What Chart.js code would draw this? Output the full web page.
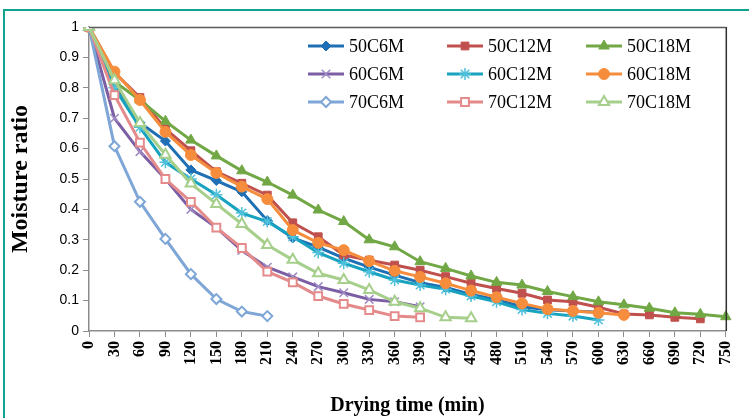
<!DOCTYPE html>
<html>
<head>
<meta charset="utf-8">
<script src="https://cdn.jsdelivr.net/npm/chart.js@4.4.1/dist/chart.umd.min.js"></script>
<style>
  html, body { margin: 0; padding: 0; background: #fff; overflow: hidden; }
  #wrap { position: relative; width: 749px; height: 418px; overflow: hidden; background: #fff; }
  #frame { position: absolute; left: 3px; top: 9px; width: 900px; height: 600px; border: 2px solid #12a38e; box-sizing: border-box; pointer-events: none; }
  canvas { position: absolute; left: 0; top: 0; }
</style>
</head>
<body>
<div id="wrap">
  <canvas id="c" width="749" height="418"></canvas>
  <div id="frame"></div>
</div>
<script>
const categories = ['0','30','60','90','120','150','180','210','240','270','300','330','360','390','420','450','480','510','540','570','600','630','660','690','720','750'];
const yTicks = [0, 0.1, 0.2, 0.3, 0.4, 0.5, 0.6, 0.7, 0.8, 0.9, 1];
const seriesNames = ['50C6M','50C12M','50C18M','60C6M','60C12M','60C18M','70C6M','70C12M','70C18M'];

const s50C6M  = [1, 0.81, 0.685, 0.625, 0.53, 0.495, 0.458, 0.363, 0.306, 0.276, 0.24, 0.21, 0.184, 0.159, 0.143, 0.12, 0.103, 0.08, 0.07, 0.066, 0.062];
const s50C12M = [1, 0.85, 0.768, 0.665, 0.593, 0.524, 0.486, 0.447, 0.356, 0.31, 0.25, 0.233, 0.217, 0.2, 0.179, 0.157, 0.14, 0.124, 0.102, 0.096, 0.078, 0.056, 0.053, 0.045, 0.04];
const s50C18M = [1, 0.82, 0.76, 0.69, 0.628, 0.576, 0.527, 0.49, 0.447, 0.398, 0.36, 0.30, 0.277, 0.228, 0.206, 0.181, 0.16, 0.151, 0.13, 0.113, 0.096, 0.086, 0.075, 0.06, 0.055, 0.047];
const s60C6M  = [1, 0.70, 0.59, 0.50, 0.40, 0.34, 0.265, 0.21, 0.178, 0.146, 0.126, 0.104, 0.096, 0.08];
const s60C12M = [1, 0.80, 0.67, 0.555, 0.50, 0.448, 0.388, 0.36, 0.31, 0.258, 0.223, 0.195, 0.168, 0.151, 0.137, 0.115, 0.096, 0.071, 0.058, 0.049, 0.036];
const s60C18M = [1, 0.853, 0.76, 0.655, 0.579, 0.52, 0.475, 0.434, 0.332, 0.29, 0.266, 0.23, 0.198, 0.178, 0.157, 0.133, 0.111, 0.091, 0.072, 0.066, 0.06, 0.053];
const s70C6M  = [1, 0.608, 0.425, 0.303, 0.187, 0.105, 0.064, 0.049];
const s70C12M = [1, 0.776, 0.62, 0.50, 0.425, 0.34, 0.273, 0.195, 0.16, 0.115, 0.089, 0.069, 0.049, 0.045];
const s70C18M = [1, 0.825, 0.684, 0.58, 0.485, 0.418, 0.352, 0.283, 0.234, 0.19, 0.168, 0.135, 0.096, 0.075, 0.045, 0.042];

const seriesValues = [s50C6M, s50C12M, s50C18M, s60C6M, s60C12M, s60C18M, s70C6M, s70C12M, s70C18M];

const styles = [
  {color:'#1f6fb4', point:'rectRot',  radius:5,   fill:'#1f6fb4', pbw:1},
  {color:'#c0504d', point:'rect',     radius:5.5, fill:'#c0504d', pbw:1},
  {color:'#71a845', point:'triangle', radius:6,   fill:'#71a845', pbw:1},
  {color:'#7b5ea3', point:'crossRot', radius:6,   fill:'#7b5ea3', pbw:1.5, pcolor:'#a08cc4'},
  {color:'#17a2bf', point:'star',     radius:6,   fill:'#17a2bf', pbw:1.5, pcolor:'#4fc0dc'},
  {color:'#f68d3c', point:'circle',   radius:5.5, fill:'#f68d3c', pbw:1},
  {color:'#7ea6d6', point:'rectRot',  radius:5,   fill:'#ffffff', pbw:2},
  {color:'#e58a8a', point:'rect',     radius:5.5, fill:'#ffffff', pbw:2},
  {color:'#a5cf8b', point:'triangle', radius:6,   fill:'#ffffff', pbw:2}
];

function pad(arr) {
  const out = arr.slice();
  while (out.length < categories.length) out.push(null);
  return out;
}

const datasets = seriesNames.map((name, i) => ({
  label: name,
  data: pad(seriesValues[i]),
  borderColor: styles[i].color,
  backgroundColor: styles[i].fill,
  borderWidth: 3,
  pointStyle: styles[i].point,
  pointRadius: styles[i].radius,
  pointHoverRadius: styles[i].radius,
  pointBackgroundColor: styles[i].fill,
  pointBorderColor: styles[i].pcolor || styles[i].color,
  pointBorderWidth: styles[i].pbw,
  tension: 0,
  fill: false,
  order: 9 - i
}));

const legendCols = [308, 447, 586];
const legendRows = [46, 74, 102];

const boxAndLegend = {
  id: 'boxAndLegend',
  afterDatasetsDraw(chart) {
    const ctx = chart.ctx;
    const a = chart.chartArea;
    ctx.save();
    ctx.lineWidth = 1.5;
    ctx.strokeStyle = '#5a5a5a';
    ctx.beginPath();
    ctx.moveTo(a.left, a.top + 0.5);
    ctx.lineTo(a.right, a.top + 0.5);
    ctx.stroke();
    ctx.strokeStyle = '#2e2e2e';
    ctx.beginPath();
    ctx.moveTo(a.right + 0.5, a.top);
    ctx.lineTo(a.right + 0.5, a.bottom);
    ctx.stroke();

    ctx.font = '18px "Liberation Serif", "Times New Roman", serif';
    ctx.textBaseline = 'middle';
    ctx.textAlign = 'left';
    chart.data.datasets.forEach((ds, i) => {
      const x0 = legendCols[i % 3];
      const y = legendRows[Math.floor(i / 3)];
      ctx.strokeStyle = ds.borderColor;
      ctx.lineWidth = 3;
      ctx.beginPath();
      ctx.moveTo(x0, y);
      ctx.lineTo(x0 + 36, y);
      ctx.stroke();
      ctx.fillStyle = ds.pointBackgroundColor;
      ctx.strokeStyle = ds.pointBorderColor;
      ctx.lineWidth = ds.pointBorderWidth;
      Chart.helpers.drawPoint(ctx, {pointStyle: ds.pointStyle, radius: ds.pointRadius, borderWidth: ds.pointBorderWidth, rotation: 0}, x0 + 18, y);
      ctx.fillStyle = '#000';
      ctx.fillText(ds.label, x0 + 41, y + 1);
    });
    ctx.restore();
  }
};

new Chart(document.getElementById('c'), {
  type: 'line',
  data: { labels: categories, datasets },
  options: {
    responsive: false,
    animation: false,
    devicePixelRatio: 1,
    layout: { padding: { left: 0, top: 27, right: 14, bottom: 0 } },
    plugins: { legend: { display: false }, tooltip: { enabled: false } },
    scales: {
      x: {
        type: 'category',
        offset: false,
        grid: { display: true, drawOnChartArea: false, drawTicks: true, tickLength: 6, color: '#8c8c8c' },
        border: { display: true, color: '#8c8c8c', width: 1.5 },
        ticks: {
          autoSkip: false, minRotation: 90, maxRotation: 90, padding: 4, color: '#000',
          font: { family: '"Liberation Serif", "Times New Roman", serif', size: 16, weight: 'bold' }
        },
        title: {
          display: true, text: 'Drying time (min)', color: '#000',
          font: { family: '"Liberation Serif", "Times New Roman", serif', size: 20, weight: 'bold' },
          padding: { top: 0, bottom: 0 }
        },
        afterFit(scale) { scale.height = 87; }
      },
      y: {
        min: 0, max: 1,
        afterBuildTicks(scale) { scale.ticks = yTicks.map(v => ({ value: v })); },
        grid: { display: true, drawOnChartArea: false, drawTicks: true, tickLength: 6, color: '#8c8c8c' },
        border: { display: true, color: '#8c8c8c', width: 1.5 },
        ticks: {
          padding: 4, color: '#000',
          font: { family: '"Liberation Sans", Arial, sans-serif', size: 14 },
          callback: (v) => (v === 0 ? '0' : v === 1 ? '1' : Number(v).toFixed(1))
        },
        title: {
          display: true, text: 'Moisture ratio', color: '#000',
          font: { family: '"Liberation Serif", "Times New Roman", serif', size: 24, weight: 'bold' },
          padding: { top: 6, bottom: 0 }
        },
        afterFit(scale) { scale.width = 89; }
      }
    }
  },
  plugins: [boxAndLegend]
});
</script>
</body>
</html>
